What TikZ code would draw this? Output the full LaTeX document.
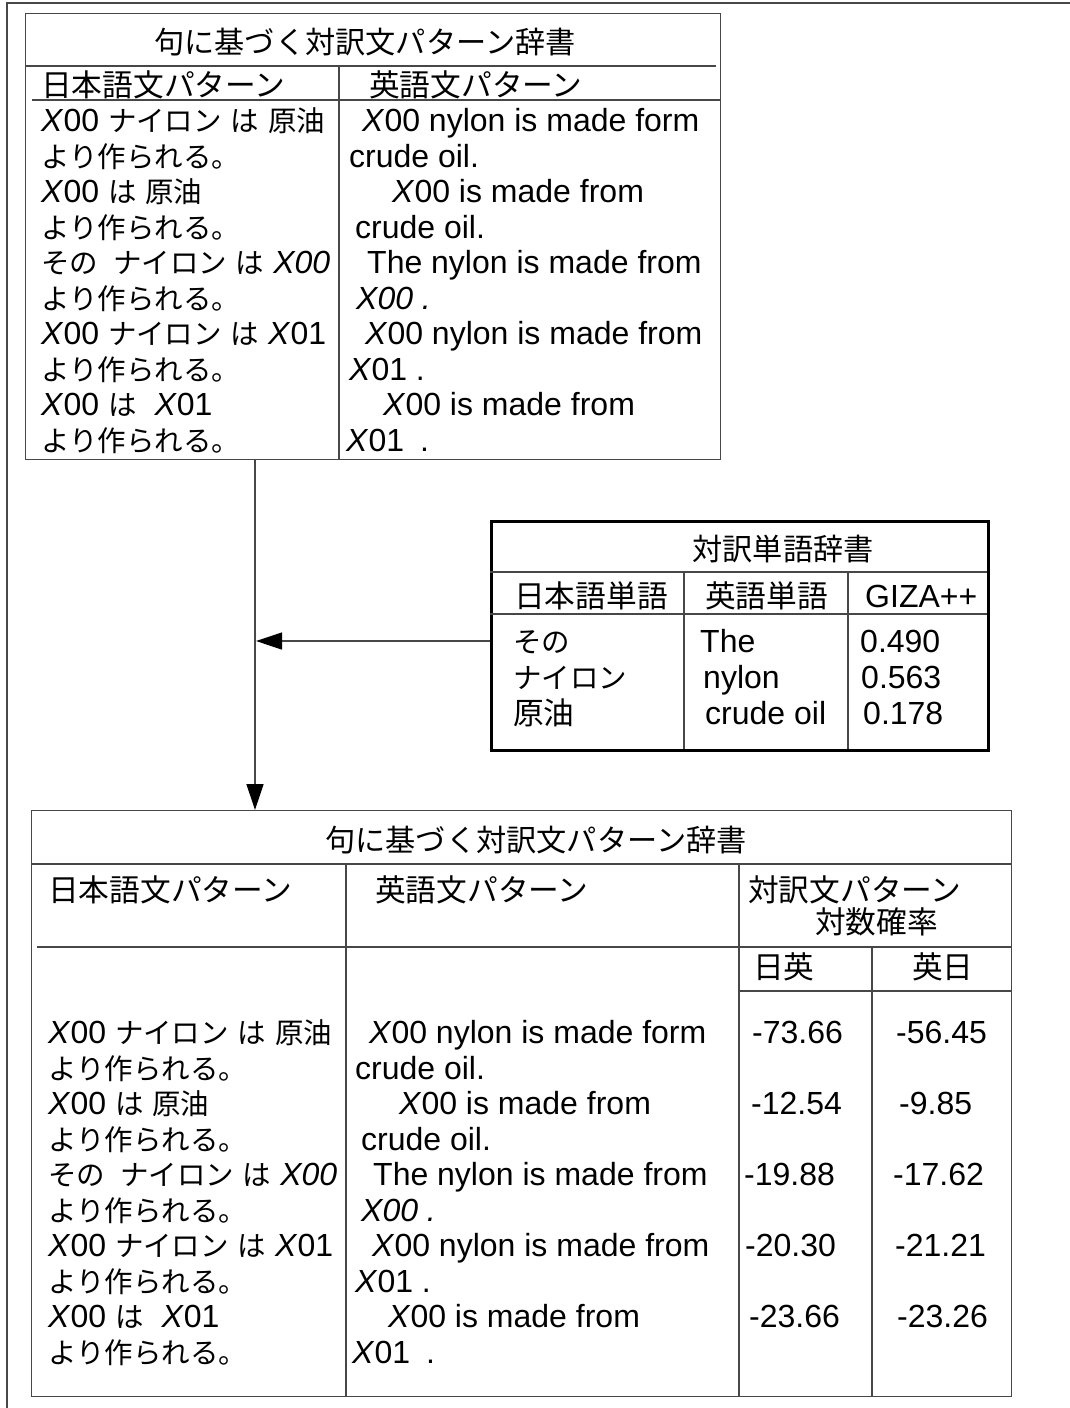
\documentclass[tikz,border=0pt]{standalone}
\usepackage{fontspec}
\setmainfont{Liberation Sans}
\newfontfamily\jpf{Noto Sans CJK JP}
\newfontfamily\jpr{Noto Sans CJK JP}[Scale=0.89]
\usetikzlibrary{arrows.meta}
\newcommand\J[1]{{\jpf #1}}
\newcommand\R[1]{{\jpr #1}}
\newcommand\fs{\fontsize{32}{36}\selectfont}
\newcommand\fsh{\fontsize{30.7}{36}\selectfont}
\newcommand\fst{\fontsize{30.2}{36}\selectfont}
\newcommand\X{\textit{X}}
\begin{document}
\begin{tikzpicture}[x=1pt,y=-1pt,
  txt/.style={anchor=base west, inner sep=0pt, font=\fs},
  htxt/.style={anchor=base west, inner sep=0pt, font=\fsh},
  ctxt/.style={anchor=base, inner sep=0pt, font=\fst},
  grid/.style={draw=black!72, line width=1.3pt},
  box/.style={draw=black!72, line width=1.3pt, anchor=north west, inner sep=0pt},
  conn/.style={draw=black!72, line width=1.3pt, -{Triangle[length=26pt,width=17pt,color=black]}}]
\useasboundingbox (0,0) rectangle (1070,1408);
% outer frame
\draw[grid] (1070,3) -- (7,3) -- (7,1408);

% ---------- top table ----------
\node[box, minimum width=695pt, minimum height=446pt] (T1) at (25,13) {};
\draw[grid] (25,66) -- (716,66);
\draw[grid] (339,66) -- (339,459);
\draw[grid] (32,100) -- (720,100);
\node[ctxt] (t1ti) at (365,53) {\J{句に基づく対訳文パターン辞書}};
\node[htxt] (t1ha) at (41,96) {\J{日本語文パターン}};
\node[htxt] (t1hb) at (369,96) {\J{英語文パターン}};
\node[txt] (t1l1) at (41,131.5) {\X00 \R{ナイロン} \R{は} \R{原油}};
\node[txt] (t1l2) at (41,167) {\R{より作られる。}};
\node[txt] (t1l3) at (41,202.5) {\X00 \R{は} \R{原油}};
\node[txt] (t1l4) at (41,238) {\R{より作られる。}};
\node[txt] (t1l5) at (41,273.5) {\R{その}\hspace{15pt}\R{ナイロン} \R{は} \textit{X00}};
\node[txt] (t1l6) at (41,309) {\R{より作られる。}};
\node[txt] (t1l7) at (41,344.5) {\X00 \R{ナイロン} \R{は} \X01};
\node[txt] (t1l8) at (41,380) {\R{より作られる。}};
\node[txt] (t1l9) at (41,415.5) {\X00 \R{は}\hspace{18pt}\X01};
\node[txt] (t1l10) at (41,451) {\R{より作られる。}};
\node[txt] (t1r1) at (362,131.5) {\X00 nylon is made form};
\node[txt] (t1r2) at (349,167) {crude oil.};
\node[txt] (t1r3) at (392,202.5) {\X00 is made from};
\node[txt] (t1r4) at (355,238) {crude oil.};
\node[txt] (t1r5) at (367,273.5) {The nylon is made from};
\node[txt] (t1r6) at (356,309) {\textit{X00 .}};
\node[txt] (t1r7) at (365,344.5) {\X00 nylon is made from};
\node[txt] (t1r8) at (349,380) {\X01 .};
\node[txt] (t1r9) at (383,415.5) {\X00 is made from};
\node[txt] (t1r10) at (346,451) {\X01\hspace{16pt}.};

% ---------- middle table ----------
\node[box, draw=black, line width=3pt, minimum width=497pt, minimum height=229pt] (T2) at (490,520) {};
\draw[grid] (490,572) -- (987,572);
\draw[grid] (490,614) -- (987,614);
\draw[grid] (684,572) -- (684,749);
\draw[grid] (848,572) -- (848,749);
\node[ctxt] (t2ti) at (783,560) {\J{対訳単語辞書}};
\node[htxt] (t2ha) at (514,607.5) {\J{日本語単語}};
\node[htxt] (t2hb) at (705,607.5) {\J{英語単語}};
\node[txt] (t2hc) at (865,607.5) {GIZA++};
\node[txt] (t2a1) at (513,652.5) {\R{その}};
\node[txt] (t2a2) at (513,688.5) {\R{ナイロン}};
\node[htxt] (t2a3) at (513,724.5) {\J{原油}};
\node[txt] (t2b1) at (700,652.5) {The};
\node[txt] (t2b2) at (703,688.5) {nylon};
\node[txt] (t2b3) at (705,724.5) {crude oil};
\node[txt] (t2c1) at (860,652.5) {0.490};
\node[txt] (t2c2) at (861,688.5) {0.563};
\node[txt] (t2c3) at (863,724.5) {0.178};

% ---------- bottom table ----------
\node[box, minimum width=980pt, minimum height=586pt] (T3) at (31,810) {};
\draw[grid] (31,864) -- (1011,864);
\draw[grid] (346,864) -- (346,1396);
\draw[grid] (739,864) -- (739,1396);
\draw[grid] (37,947) -- (1011,947);
\draw[grid] (739,991) -- (1011,991);
\draw[grid] (872,947) -- (872,1396);
\node[ctxt] (t3ti) at (536,851.5) {\J{句に基づく対訳文パターン辞書}};
\node[htxt] (t3ha) at (48,901.5) {\J{日本語文パターン}};
\node[htxt] (t3hb) at (375,901.5) {\J{英語文パターン}};
\node[htxt] (t3hc) at (748,901.5) {\J{対訳文パターン}};
\node[htxt] (t3hd) at (815,933.5) {\J{対数確率}};
\node[htxt] (t3he) at (753,978.5) {\J{日英}};
\node[htxt] (t3hf) at (912,978.5) {\J{英日}};
\node[txt] (t3l1) at (48,1043.5) {\X00 \R{ナイロン} \R{は} \R{原油}};
\node[txt] (t3l2) at (48,1079) {\R{より作られる。}};
\node[txt] (t3l3) at (48,1114.5) {\X00 \R{は} \R{原油}};
\node[txt] (t3l4) at (48,1150) {\R{より作られる。}};
\node[txt] (t3l5) at (48,1185.5) {\R{その}\hspace{15pt}\R{ナイロン} \R{は} \textit{X00}};
\node[txt] (t3l6) at (48,1221) {\R{より作られる。}};
\node[txt] (t3l7) at (48,1256.5) {\X00 \R{ナイロン} \R{は} \X01};
\node[txt] (t3l8) at (48,1292) {\R{より作られる。}};
\node[txt] (t3l9) at (48,1327.5) {\X00 \R{は}\hspace{18pt}\X01};
\node[txt] (t3l10) at (48,1363) {\R{より作られる。}};
\node[txt] (t3r1) at (369,1043.5) {\X00 nylon is made form};
\node[txt] (t3r2) at (355,1079) {crude oil.};
\node[txt] (t3r3) at (399,1114.5) {\X00 is made from};
\node[txt] (t3r4) at (361,1150) {crude oil.};
\node[txt] (t3r5) at (373,1185.5) {The nylon is made from};
\node[txt] (t3r6) at (361,1221) {\textit{X00 .}};
\node[txt] (t3r7) at (372,1256.5) {\X00 nylon is made from};
\node[txt] (t3r8) at (355,1292) {\X01 .};
\node[txt] (t3r9) at (388,1327.5) {\X00 is made from};
\node[txt] (t3r10) at (352,1363) {\X01\hspace{16pt}.};
\node[txt] (t3n1) at (752,1043.5) {-73.66};
\node[txt] (t3m1) at (896,1043.5) {-56.45};
\node[txt] (t3n2) at (751,1114.5) {-12.54};
\node[txt] (t3m2) at (899,1114.5) {-9.85};
\node[txt] (t3n3) at (744,1185.5) {-19.88};
\node[txt] (t3m3) at (893,1185.5) {-17.62};
\node[txt] (t3n4) at (745,1256.5) {-20.30};
\node[txt] (t3m4) at (895,1256.5) {-21.21};
\node[txt] (t3n5) at (749,1327.5) {-23.66};
\node[txt] (t3m5) at (897,1327.5) {-23.26};

% ---------- connectors ----------
\coordinate (ca) at (255,459);
\coordinate (cb) at (255,810);
\coordinate (cj) at (256,641);
\coordinate (ch) at (490,641);
\draw[conn] (ca) -- (cb);
\draw[conn] (ch) -- (cj);
\end{tikzpicture}
\end{document}
